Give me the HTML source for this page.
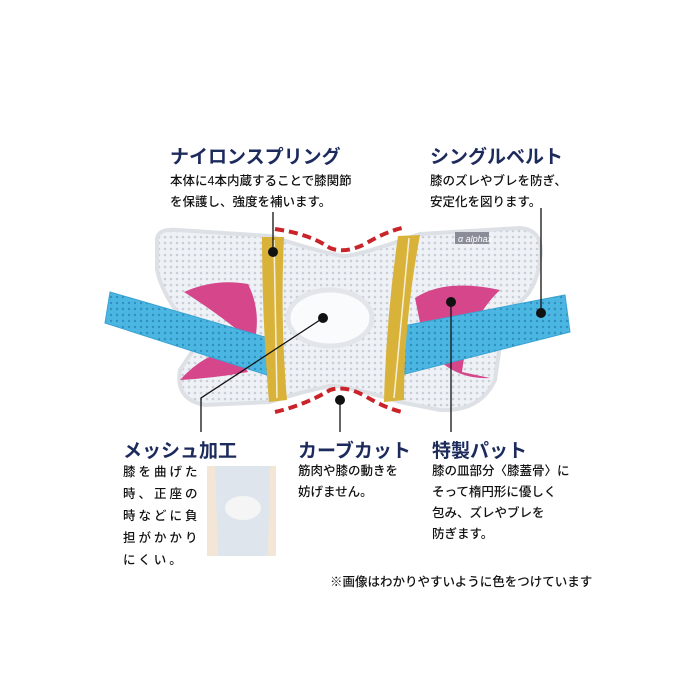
<!DOCTYPE html>
<html><head><meta charset="utf-8"><style>
body{margin:0;width:700px;height:700px;background:#fff;position:relative;overflow:hidden;font-family:"Liberation Sans","Noto Sans CJK JP",sans-serif}
.t{position:absolute;color:#1c2a5c;font-weight:bold;font-size:19px;white-space:nowrap}
.b{position:absolute;color:#111;font-size:12.5px;line-height:21px;white-space:nowrap;font-weight:500}
svg{position:absolute;left:0;top:0}
</style></head><body>
<svg width="700" height="700">
<defs><pattern id="m" width="6" height="6" patternUnits="userSpaceOnUse"><rect width="6" height="6" fill="#eef1f5"/><circle cx="3" cy="3" r="1.3" fill="#c9ced6"/></pattern>
<pattern id="mb" width="6" height="6" patternUnits="userSpaceOnUse"><rect width="6" height="6" fill="#4bb6e2"/><circle cx="3" cy="3" r="1.2" fill="#2f8fbf"/></pattern></defs>
<path d="M157,240 Q157,228 178,230 L270,236 Q330,255 345,256 Q360,255 420,234 L520,228 Q545,230 540,260 Q535,300 505,310 L495,380 Q480,412 440,410 L400,402 Q345,385 330,386 Q300,392 270,402 L205,405 Q175,400 180,370 L200,340 Q163,300 157,270 Z" fill="url(#m)" stroke="#dde1e6" stroke-width="4"/>
<ellipse cx="330" cy="318" rx="42" ry="28" fill="#fafbfc" stroke="#e2e5ea" stroke-width="5"/>
<path d="M184,292 Q215,278 248,284 Q262,312 254,344 Q225,318 184,292Z" fill="#d6468b"/>
<path d="M180,380 Q205,352 235,350 L248,372 Q215,378 180,380Z" fill="#d6468b"/>
<path d="M415,298 Q445,278 500,290 Q468,320 462,372 L490,378 Q448,380 424,342 Z" fill="#d6468b"/>
<path d="M110,292 L275,340 L270,376 L105,323 Z" fill="url(#mb)" stroke="#3aa3d3"/>
<path d="M403,326 L565,295 L570,332 L405,374 Z" fill="url(#mb)" stroke="#3aa3d3"/>
<path d="M262,237 L284,237 Q280,320 287,400 L269,402 Q262,320 262,237Z" fill="#d9b23a"/>
<line x1="274" y1="240" x2="277" y2="398" stroke="#f5efd6" stroke-width="1.5"/>
<path d="M398,236 L420,235 Q404,320 404,400 L384,402 Q386,320 398,236Z" fill="#d9b23a"/>
<line x1="409" y1="238" x2="394" y2="398" stroke="#f5efd6" stroke-width="1.5"/>
<rect x="455" y="232" width="34" height="12" fill="#8a8d98"/><text x="458" y="242" font-size="9" fill="#fff" font-style="italic">α alphax</text>
<path d="M275,229 Q310,234 330,248 Q345,254 365,244 Q385,232 402,228" fill="none" stroke="#c8242a" stroke-width="4" stroke-dasharray="9,5"/>
<path d="M275,412 Q305,405 330,390 Q345,385 365,396 Q385,408 402,412" fill="none" stroke="#c8242a" stroke-width="4" stroke-dasharray="9,5"/>
<g stroke="#111" stroke-width="1.3" fill="none">
<line x1="273" y1="252" x2="273" y2="212"/><line x1="541" y1="313" x2="541" y2="208"/>
<polyline points="323,318 201,398 201,432"/><line x1="340" y1="400" x2="340" y2="432"/><line x1="451" y1="302" x2="451" y2="432"/></g>
<g fill="#111"><circle cx="273" cy="252" r="5"/><circle cx="323" cy="318" r="5"/><circle cx="340" cy="400" r="5"/><circle cx="451" cy="302" r="5"/><circle cx="541" cy="313" r="5"/></g>
<rect x="207" y="466" width="69" height="90" fill="#f3e6d6"/>
<path d="M215,466 L270,466 L268,556 L218,556Z" fill="#dfe5ec"/>
<ellipse cx="243" cy="508" rx="18" ry="12" fill="#f5f5f5"/>
</svg>
<div class="t" style="left:170px;top:142px">ナイロンスプリング</div>
<div class="b" style="left:170px;top:171px">本体に4本内蔵することで膝関節<br>を保護し、強度を補います。</div>
<div class="t" style="left:430px;top:142px">シングルベルト</div>
<div class="b" style="left:430px;top:171px">膝のズレやブレを防ぎ、<br>安定化を図ります。</div>
<div class="t" style="left:123px;top:436px">メッシュ加工</div>
<div class="b" style="left:123px;top:461px;line-height:22px;letter-spacing:3px">膝を曲げた<br>時、正座の<br>時などに負<br>担がかかり<br>にくい。</div>
<div class="t" style="left:298px;top:436px">カーブカット</div>
<div class="b" style="left:298px;top:461px">筋肉や膝の動きを<br>妨げません。</div>
<div class="t" style="left:432px;top:436px">特製パット</div>
<div class="b" style="left:432px;top:461px">膝の皿部分〈膝蓋骨〉に<br>そって楕円形に優しく<br>包み、ズレやブレを<br>防ぎます。</div>
<div class="b" style="left:330px;top:572px;font-size:12.5px">※画像はわかりやすいように色をつけています</div>
</body></html>
